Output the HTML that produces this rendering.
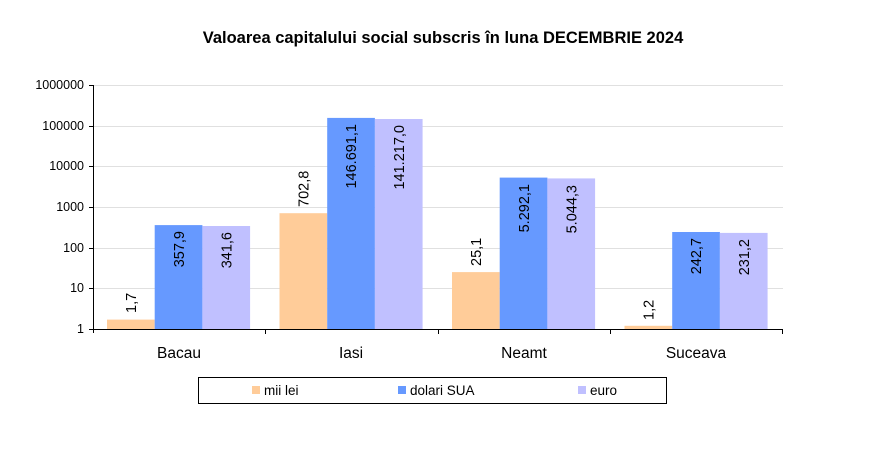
<!DOCTYPE html>
<html><head><meta charset="utf-8"><style>
body{margin:0;background:#fff;}
svg{display:block;font-family:"Liberation Sans",Arial,sans-serif;}
</style></head><body>
<svg width="872" height="456" viewBox="0 0 872 456" xmlns="http://www.w3.org/2000/svg">
<rect width="872" height="456" fill="#fff"/>
<text x="443" y="43" text-anchor="middle" font-size="16.5" font-weight="bold" fill="#000">Valoarea capitalului social subscris în luna DECEMBRIE 2024</text>
<g stroke="#e0e0e0" stroke-width="1">
<line x1="93" y1="85.5" x2="783" y2="85.5"/>
<line x1="93" y1="126.5" x2="783" y2="126.5"/>
<line x1="93" y1="166.5" x2="783" y2="166.5"/>
<line x1="93" y1="207.5" x2="783" y2="207.5"/>
<line x1="93" y1="248.5" x2="783" y2="248.5"/>
<line x1="93" y1="288.5" x2="783" y2="288.5"/>
</g>
<g font-size="12.5" fill="#000" text-anchor="end">
<text x="84" y="89">1000000</text>
<text x="84" y="130">100000</text>
<text x="84" y="170">10000</text>
<text x="84" y="211">1000</text>
<text x="84" y="252">100</text>
<text x="84" y="292">10</text>
<text x="84" y="333">1</text>
</g>
<g>
<rect x="107" y="319.6" width="47.7" height="9.4" fill="#FFCC99"/>
<rect x="154.7" y="225.1" width="47.7" height="103.9" fill="#6699FF"/>
<rect x="202.4" y="226" width="47.7" height="103" fill="#C0C0FF"/>
<rect x="279.5" y="213.2" width="47.7" height="115.8" fill="#FFCC99"/>
<rect x="327.2" y="117.9" width="47.7" height="211.1" fill="#6699FF"/>
<rect x="374.9" y="119" width="47.7" height="210" fill="#C0C0FF"/>
<rect x="452" y="272.1" width="47.7" height="56.9" fill="#FFCC99"/>
<rect x="499.7" y="177.6" width="47.7" height="151.4" fill="#6699FF"/>
<rect x="547.4" y="178.4" width="47.7" height="150.6" fill="#C0C0FF"/>
<rect x="624.5" y="325.8" width="47.7" height="3.2" fill="#FFCC99"/>
<rect x="672.2" y="232" width="47.7" height="97" fill="#6699FF"/>
<rect x="719.9" y="232.9" width="47.7" height="96.1" fill="#C0C0FF"/>
</g>
<g stroke="#000" stroke-width="1">
<line x1="93.5" y1="85" x2="93.5" y2="333"/>
<line x1="89" y1="329.5" x2="783" y2="329.5"/>
<line x1="89" y1="85.5" x2="93" y2="85.5"/>
<line x1="89" y1="126.5" x2="93" y2="126.5"/>
<line x1="89" y1="166.5" x2="93" y2="166.5"/>
<line x1="89" y1="207.5" x2="93" y2="207.5"/>
<line x1="89" y1="248.5" x2="93" y2="248.5"/>
<line x1="89" y1="288.5" x2="93" y2="288.5"/>
<line x1="265.5" y1="329" x2="265.5" y2="334"/>
<line x1="438.5" y1="329" x2="438.5" y2="334"/>
<line x1="610.5" y1="329" x2="610.5" y2="334"/>
<line x1="782.5" y1="329" x2="782.5" y2="334"/>
</g>
<g font-size="14.5" fill="#000">
<text transform="translate(136,313) rotate(-90)" text-anchor="start">1,7</text>
<text transform="translate(184,231) rotate(-90)" text-anchor="end">357,9</text>
<text transform="translate(231.5,232) rotate(-90)" text-anchor="end">341,6</text>
<text transform="translate(308.5,207) rotate(-90)" text-anchor="start">702,8</text>
<text transform="translate(356,124) rotate(-90)" text-anchor="end">146.691,1</text>
<text transform="translate(404,125) rotate(-90)" text-anchor="end">141.217,0</text>
<text transform="translate(481,266) rotate(-90)" text-anchor="start">25,1</text>
<text transform="translate(529,184) rotate(-90)" text-anchor="end">5.292,1</text>
<text transform="translate(576.5,185) rotate(-90)" text-anchor="end">5.044,3</text>
<text transform="translate(653.5,320) rotate(-90)" text-anchor="start">1,2</text>
<text transform="translate(701,238) rotate(-90)" text-anchor="end">242,7</text>
<text transform="translate(749,239) rotate(-90)" text-anchor="end">231,2</text>
</g>
<g font-size="15.5" fill="#000" text-anchor="middle">
<text x="179" y="358">Bacau</text>
<text x="351" y="358">Iasi</text>
<text x="524" y="358">Neamt</text>
<text x="696" y="358">Suceava</text>
</g>
<rect x="198.5" y="377.5" width="468" height="26" fill="#fff" stroke="#000" stroke-width="1"/>
<rect x="252" y="386" width="8" height="8" fill="#FFCC99"/>
<text x="264" y="395" font-size="13.5">mii lei</text>
<rect x="398" y="386" width="8" height="8" fill="#6699FF"/>
<text x="410" y="395" font-size="13.5">dolari SUA</text>
<rect x="578" y="386" width="8" height="8" fill="#C0C0FF"/>
<text x="590" y="395" font-size="13.5">euro</text>
</svg>
</body></html>
